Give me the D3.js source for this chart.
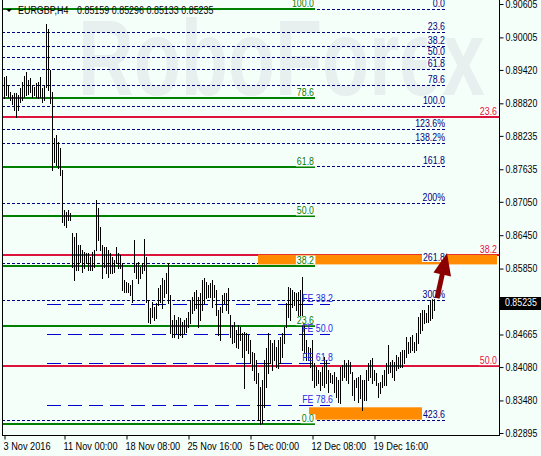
<!DOCTYPE html>
<html><head><meta charset="utf-8">
<script src="https://cdn.jsdelivr.net/npm/d3@7/dist/d3.min.js"></script>
<style>
html,body{margin:0;padding:0;background:#F5FFFA;}
svg{display:block;}
text{font-family:"Liberation Sans",Arial,sans-serif;}
</style></head>
<body>
<svg id="chart" width="541" height="456"></svg>
<script>
// ---- data ----
const symbol = "EURGBP,H4";
const lastOHLC = [0.85159, 0.85296, 0.85133, 0.85235];

const barHigh = [
  0.89297,0.89315,0.89153,0.89027,0.88973,0.89009,0.89009,0.88973,0.89099,0.89207,
  0.89315,0.89387,0.89243,0.89279,0.89153,0.89117,0.89189,0.89207,0.89297,0.89099,
  0.89153,0.90251,0.90161,0.89423,0.89027,0.88199,0.88253,0.88127,0.88019,0.87623,
  0.86903,0.86867,0.86903,0.86849,0.86489,0.86417,0.86489,0.86273,0.86273,0.86183,
  0.86147,0.86129,0.86129,0.86057,0.86147,0.86183,0.87083,0.86939,0.86597,0.86273,
  0.86237,0.86237,0.86183,0.86129,0.86057,0.86003,0.86237,0.86129,0.86093,0.85949,
  0.85643,0.85607,0.85589,0.85553,0.85643,0.86363,0.85949,0.85967,0.85877,0.85949,
  0.86381,0.86057,0.85283,0.85139,0.85247,0.85157,0.85229,0.85499,0.85553,0.85679,
  0.85643,0.85769,0.85949,0.85373,0.84923,0.85013,0.84923,0.84977,0.84959,0.84887,
  0.84923,0.84959,0.85067,0.85283,0.85337,0.85427,0.85463,0.85337,0.85409,0.85643,
  0.85679,0.85607,0.85553,0.85589,0.85643,0.85553,0.85463,0.85103,0.85157,0.85373,
  0.85409,0.85409,0.85499,0.85013,0.84833,0.84887,0.84743,0.84833,0.84797,0.84689,
  0.84707,0.84689,0.84653,0.84563,0.84347,0.84329,0.84203,0.83969,0.83717,0.83843,
  0.84203,0.84419,0.84689,0.84563,0.84509,0.84563,0.84437,0.84563,0.84617,0.84689,
  0.84797,0.85229,0.85517,0.85499,0.85463,0.85427,0.85409,0.85427,0.85463,0.85697,
  0.84869,0.84563,0.84437,0.84419,0.84563,0.84149,0.84077,0.84023,0.83987,0.84077,
  0.84257,0.84203,0.84023,0.83969,0.83933,0.83987,0.83897,0.83843,0.84077,0.84113,
  0.84203,0.84149,0.84203,0.84167,0.83987,0.83843,0.83879,0.83897,0.83933,0.83843,
  0.83843,0.84023,0.84149,0.84203,0.84239,0.84023,0.83969,0.83789,0.83807,0.83933,
  0.84023,0.84149,0.84473,0.84167,0.84203,0.84167,0.84293,0.84257,0.84347,0.84383,
  0.84383,0.84617,0.84527,0.84617,0.84653,0.84527,0.84689,0.84977,0.85049,0.85103,
  0.85103,0.85049,0.85193,0.85283,0.85337,0.85319
];
const barLow = [
  0.88919,0.88973,0.88937,0.88883,0.88811,0.88703,0.88577,0.88703,0.88847,0.88883,
  0.88937,0.88973,0.88991,0.89027,0.88937,0.88973,0.88937,0.88919,0.88937,0.88847,
  0.88883,0.89117,0.89063,0.88829,0.87623,0.87767,0.87713,0.87659,0.87533,0.86687,
  0.86633,0.86597,0.86723,0.86723,0.85877,0.85643,0.85823,0.85823,0.85967,0.85787,
  0.85859,0.85949,0.85823,0.85823,0.85823,0.85877,0.86183,0.86363,0.86183,0.85679,
  0.85877,0.85769,0.85697,0.85769,0.85769,0.85787,0.85949,0.85859,0.85859,0.85463,
  0.85427,0.85427,0.85427,0.85373,0.85247,0.85787,0.85679,0.85589,0.85679,0.85769,
  0.85823,0.85247,0.84887,0.84869,0.84977,0.84923,0.84959,0.85193,0.85247,0.85139,
  0.85337,0.85409,0.85229,0.84689,0.84617,0.84617,0.84689,0.84599,0.84653,0.84617,
  0.84689,0.84707,0.84797,0.84869,0.85049,0.85103,0.85139,0.84797,0.84923,0.85103,
  0.85229,0.85319,0.85337,0.85337,0.85157,0.85337,0.85013,0.84653,0.84563,0.85067,
  0.85229,0.85103,0.85049,0.84617,0.84509,0.84527,0.84437,0.84419,0.84563,0.84257,
  0.83699,0.84383,0.84329,0.84149,0.84023,0.83843,0.83789,0.83123,0.83051,0.83069,
  0.83357,0.83717,0.83969,0.84149,0.84023,0.84203,0.84077,0.84059,0.84149,0.84257,
  0.84509,0.84797,0.84977,0.84923,0.85157,0.85193,0.85103,0.85013,0.85013,0.84383,
  0.84329,0.84203,0.84203,0.84077,0.83843,0.83717,0.83753,0.83789,0.83663,0.83753,
  0.83717,0.83789,0.83627,0.83807,0.83789,0.83627,0.83537,0.83447,0.83429,0.83843,
  0.83897,0.83843,0.83789,0.83969,0.83573,0.83483,0.83717,0.83447,0.83519,0.83303,
  0.83483,0.83483,0.83843,0.83897,0.83789,0.83843,0.83753,0.83537,0.83609,0.83717,
  0.83753,0.83753,0.83969,0.83987,0.83897,0.83843,0.84023,0.84059,0.84077,0.84077,
  0.84149,0.84257,0.84329,0.84347,0.84383,0.84347,0.84383,0.84509,0.84689,0.84743,
  0.84869,0.84887,0.84887,0.84923,0.84959,0.85103
];

const timeTickBars = [0, 30, 61, 92, 123, 154, 185];
const timeTickLabels = ["3 Nov 2016", "11 Nov 00:00", "18 Nov 08:00", "25 Nov 16:00",
                        "5 Dec 00:00", "12 Dec 08:00", "19 Dec 16:00"];
const priceTicks = [0.90605, 0.90005, 0.89420, 0.88820, 0.88235, 0.87635, 0.87050,
                    0.86450, 0.85850, 0.84665, 0.84080, 0.83480, 0.82895];
const lastPrice = 0.85235;

// fibo retracement (green): price at 100% and 0%
const retraceAnchors = [0.90521, 0.83051];
const retraceLevels = [100, 78.6, 61.8, 50, 38.2, 23.6, 0];
const retraceLabels = ["100.0", "78.6", "61.8", "50.0", "38.2", "23.6", "0.0"];

// fibo extension (navy dotted): price at 0% and 100%
const extAnchors = [0.90521, 0.88775];
const extLevels = [0, 23.6, 38.2, 50, 61.8, 78.6, 100, 123.6, 138.2, 161.8, 200, 261.8, 300, 423.6];
const extLabels = ["0.0", "23.6", "38.2", "50.0", "61.8", "78.6", "100.0", "123.6%", "138.2%",
                   "161.8", "200%", "261.8", "300%", "423.6"];

// second retracement (red)
const redAnchors = [0.92584, 0.75607];
const redLevels = [23.6, 38.2, 50];
const redLabels = ["23.6", "38.2", "50.0"];

// fibo expansion (blue long dash)
const feAnchors = [0.86930, 0.82430];
const feLevels = [38.2, 50, 61.8, 78.6];
const feLabels = ["FE 38.2", "FE 50.0", "FE 61.8", "FE 78.6"];

// target zones: [start bar, end bar (null = right edge), top price, bottom price]
const zoneStart = [127, 152.5];
const zoneEnd = [null, 209];
const zoneTop = [0.86099, 0.83357];
const zoneBottom = [0.85925, 0.83135];

// arrow: [bar, price] from / to
const arrowFrom = [216.5, 0.85319];
const arrowTo = [221.5, 0.86129];

// ---- layout ----
const W = 541, H = 456;
const plot = {left: 2, right: 499, top: 0, bottom: 435};
const C = {
  bg: "#F5FFFA", green: "#008000", red: "#DC143C", navy: "#000080",
  blue: "#0000CD", feText: "#2a2ae8", orange: "#FF8C00", arrow: "#8B0000", wm: "#e7efef"
};

const svg = d3.select("#chart");
const x = d3.scaleLinear().domain([0, barHigh.length - 1]).range([4, 434]);
const y = d3.scaleLinear().domain([0.82895, 0.90605]).range([433, 4]);
const px = v => Math.round(v) + 0.5;

// the chart font is narrower than Liberation Sans, squeeze the glyphs
function narrow(sel, k) {
  sel.each(function () {
    const w = this.getComputedTextLength();
    d3.select(this).attr("textLength", w * k).attr("lengthAdjust", "spacingAndGlyphs");
  });
  return sel;
}

svg.append("rect").attr("width", W).attr("height", H).attr("fill", C.bg);

// watermark
svg.append("text")
  .attr("x", 78).attr("y", 95)
  .attr("textLength", 407).attr("lengthAdjust", "spacingAndGlyphs")
  .style("font-weight", "bold").style("font-size", "108px")
  .attr("fill", C.wm)
  .text("RoboForex");

svg.append("clipPath").attr("id", "clip").append("rect")
  .attr("x", plot.left).attr("y", plot.top)
  .attr("width", plot.right - plot.left).attr("height", plot.bottom - plot.top);
const g = svg.append("g").attr("clip-path", "url(#clip)");

const lvl = (anch, r) => anch[0] + (anch[1] - anch[0]) * r / 100;

// navy dotted extension
const extEnd = x(220.5);
extLevels.forEach(r => {
  const yy = px(y(lvl(extAnchors, r)));
  g.append("line").attr("x1", plot.left).attr("x2", extEnd).attr("y1", yy).attr("y2", yy)
    .attr("stroke", C.navy).attr("stroke-width", 1).attr("stroke-dasharray", "3,2");
});

// green retracement
const grEnd = x(155.5);
retraceLevels.forEach(r => {
  const yy = Math.round(y(lvl(retraceAnchors, 100 - r)));
  g.append("line").attr("x1", plot.left).attr("x2", grEnd).attr("y1", yy).attr("y2", yy)
    .attr("stroke", C.green).attr("stroke-width", 2);
});

// red
redLevels.forEach(r => {
  const yy = Math.round(y(lvl(redAnchors, r)));
  g.append("line").attr("x1", plot.left).attr("x2", plot.right).attr("y1", yy).attr("y2", yy)
    .attr("stroke", C.red).attr("stroke-width", 2);
});

// blue FE
const feX1 = x(21.5), feX2 = x(163);
feLevels.forEach(r => {
  const yy = px(y(lvl(feAnchors, r)));
  g.append("line").attr("x1", feX1).attr("x2", feX2).attr("y1", yy).attr("y2", yy)
    .attr("stroke", C.blue).attr("stroke-width", 1).attr("stroke-dasharray", "14,7");
});

// zones
zoneStart.forEach((s, i) => {
  const x1 = x(s), x2 = zoneEnd[i] == null ? plot.right - 2 : x(zoneEnd[i]);
  const y1 = y(zoneTop[i]), y2 = y(zoneBottom[i]);
  g.append("rect").attr("x", x1).attr("y", y1).attr("width", x2 - x1).attr("height", y2 - y1)
    .attr("fill", C.orange);
});

// bars
g.append("g").selectAll("line").data(barHigh).join("line")
  .attr("x1", (d, i) => px(x(i))).attr("x2", (d, i) => px(x(i)))
  .attr("y1", d => Math.round(y(d)))
  .attr("y2", (d, i) => Math.round(y(barLow[i])) + 1)
  .attr("stroke", "#000").attr("stroke-width", 1);

// labels
function label(txt, xr, yLine, color, box) {
  const t = g.append("text").attr("x", xr).attr("y", yLine - 2)
    .attr("text-anchor", "end").style("font-size", "10px").attr("fill", color).text(txt);
  narrow(t, 0.88);
  if (box) {
    const b = t.node().getBBox();
    g.insert("rect", () => t.node()).attr("x", b.x - 1).attr("y", yLine - 10)
      .attr("width", b.width + 2).attr("height", 9).attr("fill", box);
  }
}
extLevels.forEach((r, i) => label(extLabels[i], extEnd, y(lvl(extAnchors, r)), C.navy, C.bg));
retraceLevels.forEach((r, i) => label(retraceLabels[i], grEnd - 1, y(lvl(retraceAnchors, 100 - r)), C.green, "#fff"));
redLevels.forEach((r, i) => label(redLabels[i], plot.right - 2, y(lvl(redAnchors, r)), C.red, "#fff"));
feLevels.forEach((r, i) => label(feLabels[i], feX2 + 3, y(lvl(feAnchors, r)), C.feText, null));

// arrow
(function () {
  const x1 = x(arrowFrom[0]), y1 = y(arrowFrom[1]);
  const x2 = x(arrowTo[0]), y2 = y(arrowTo[1]);
  const dx = x2 - x1, dy = y2 - y1, L = Math.hypot(dx, dy);
  const ux = dx / L, uy = dy / L, nx = -uy, ny = ux;
  const hl = 22, hw = 9, sw = 2.5;
  const bx = x2 - ux * hl, by = y2 - uy * hl;
  const pts = [
    [x1 + nx * sw, y1 + ny * sw], [bx + nx * sw, by + ny * sw], [bx + nx * hw, by + ny * hw],
    [x2, y2], [bx - nx * hw, by - ny * hw], [bx - nx * sw, by - ny * sw], [x1 - nx * sw, y1 - ny * sw]
  ];
  svg.append("polygon").attr("points", pts.map(p => p.join(",")).join(" ")).attr("fill", C.arrow);
})();

// borders
svg.append("line").attr("x1", plot.left + 0.5).attr("x2", plot.left + 0.5).attr("y1", 0).attr("y2", plot.bottom + 0.5)
  .attr("stroke", "#000");
svg.append("line").attr("x1", plot.right + 0.5).attr("x2", plot.right + 0.5).attr("y1", 0).attr("y2", plot.bottom + 0.5)
  .attr("stroke", "#000");
svg.append("line").attr("x1", plot.left).attr("x2", plot.right + 1).attr("y1", plot.bottom + 0.5).attr("y2", plot.bottom + 0.5)
  .attr("stroke", "#000");

// axes
const yAxis = svg.append("g").attr("transform", `translate(${plot.right + 0.5},0)`)
  .call(d3.axisRight(y).tickValues(priceTicks).tickFormat(d3.format(".5f")).tickSize(4).tickPadding(2));
yAxis.select(".domain").remove();
yAxis.selectAll("text").style("font-size", "10px").style("font-family", null).attr("fill", "#000").call(narrow, 0.88);

const xAxis = svg.append("g").attr("transform", `translate(0,${plot.bottom + 0.5})`)
  .call(d3.axisBottom(x).tickValues(timeTickBars).tickFormat((d, i) => timeTickLabels[i]).tickSize(4).tickPadding(3));
xAxis.select(".domain").remove();
xAxis.selectAll("text").attr("text-anchor", "start").attr("dx", -1).style("font-size", "10px")
  .style("font-family", null).attr("fill", "#000").call(narrow, 0.92);
xAxis.selectAll(".tick line").attr("transform", "translate(0.5,0)");

// last price tag
const ly = y(lastPrice);
svg.append("rect").attr("x", plot.right + 1).attr("y", Math.round(ly) - 6).attr("width", W - plot.right - 1).attr("height", 13)
  .attr("fill", "#000");
svg.append("text").attr("x", plot.right + 6).attr("y", ly).attr("dy", "0.35em")
  .style("font-size", "10px").attr("fill", "#fff").text(d3.format(".5f")(lastPrice)).call(narrow, 0.88);

// header
svg.append("path").attr("d", "M6,9 L12,9 L9,12 Z").attr("fill", "#000");
svg.append("text").attr("x", 18).attr("y", 14).style("font-size", "10.5px").attr("fill", "#000").text(symbol).call(narrow, 0.85);
svg.append("text").attr("x", 77).attr("y", 14).style("font-size", "10.5px").attr("fill", "#000")
  .text(lastOHLC.map(d3.format(".5f")).join(" ")).call(narrow, 0.85);
</script>
</body></html>
